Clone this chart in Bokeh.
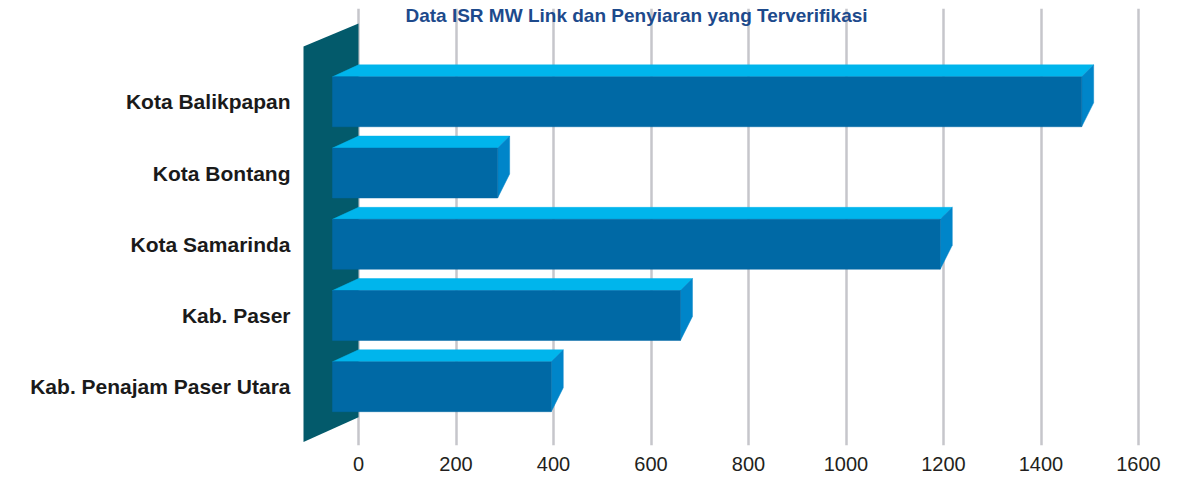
from bokeh.plotting import figure
from bokeh.models import Range1d, FixedTicker, Label
from bokeh.embed import file_html
from bokeh.resources import INLINE

# ---------------- data ----------------
categories = ["Kota Balikpapan", "Kota Bontang", "Kota Samarinda",
              "Kab. Paser", "Kab. Penajam Paser Utara"]
values = [1508, 310, 1218, 685, 420]
x_ticks = [0, 200, 400, 600, 800, 1000, 1200, 1400, 1600]
title_text = "Data ISR MW Link dan Penyiaran yang Terverifikasi"

# ---------------- layout ----------------
W, H = 1170, 473
B_LEFT, B_RIGHT, B_TOP, B_BOTTOM = 300, 0, 8, 27
frame_w = W - B_LEFT - B_RIGHT
frame_h = H - B_TOP - B_BOTTOM
PX = 0.4875            # pixels per value unit
ROW = 71.4             # pixels per category row
zero_px = 58           # zero gridline from frame left (px)
first_row_px = 93.5    # first bar centre from frame top (px)

x_start = -zero_px / PX
x_end = x_start + frame_w / PX
y_top = -first_row_px / ROW
y_bottom = y_top + frame_h / ROW

def ux(px):
    return px / PX

def uy(px):
    return px / ROW

FONT = "Liberation Sans"
C_TOP = "#00B5EC"
C_FRONT = "#0069A5"
C_SIDE = "#0085C9"
C_WALL = "#035A6B"
C_GRID = "#C6C6CB"

p = figure(width=W, height=H, output_backend="svg", toolbar_location=None,
           x_range=Range1d(x_start, x_end), y_range=Range1d(y_bottom, y_top),
           min_border_left=B_LEFT, min_border_right=B_RIGHT,
           min_border_top=B_TOP, min_border_bottom=B_BOTTOM)
p.outline_line_color = None
p.background_fill_color = "white"
p.border_fill_color = "white"

# grid
p.xgrid.ticker = FixedTicker(ticks=x_ticks)
p.xgrid.grid_line_color = C_GRID
p.xgrid.grid_line_width = 2.5
p.ygrid.visible = False

# x axis
p.xaxis.ticker = FixedTicker(ticks=x_ticks)
p.xaxis.axis_line_color = None
p.xaxis.major_tick_line_color = None
p.xaxis.minor_tick_line_color = None
p.xaxis.major_label_text_font = FONT
p.xaxis.major_label_text_font_size = "20px"
p.xaxis.major_label_text_color = "#231F20"
p.xaxis.major_label_standoff = 5

# y axis
idx = list(range(len(categories)))
p.yaxis.ticker = FixedTicker(ticks=idx)
p.yaxis.major_label_overrides = {i: c for i, c in zip(idx, categories)}
p.yaxis.axis_line_color = None
p.yaxis.major_tick_line_color = None
p.yaxis.minor_tick_line_color = None
p.yaxis.major_label_text_font = FONT
p.yaxis.major_label_text_font_style = "bold"
p.yaxis.major_label_text_font_size = "21px"
p.yaxis.major_label_text_color = "#1A1A1A"
p.yaxis.major_label_standoff = 4

# side wall (3D effect)
wall_x = [0, ux(-55), ux(-55), 0]
wall_y = [uy(-78.5), uy(-55.5), 4 + uy(55.5), 4 + uy(30.5)]
p.patch(wall_x, wall_y, fill_color=C_WALL, line_color=None)

# bars
half_h = uy(25)
top_xs, top_ys, side_xs, side_ys, front_xs, front_ys = [], [], [], [], [], []
for i, v in zip(idx, values):
    fl, fr = ux(-26), v - ux(12)
    bl, br = 0, v
    ft, fb = i - half_h, i + half_h
    bt, bb = ft - uy(12), fb - uy(24)
    top_xs.append([fl, fr, br, bl]); top_ys.append([ft, ft, bt, bt])
    side_xs.append([fr, br, br, fr]); side_ys.append([ft, bt, bb, fb])
    front_xs.append([fl, fr, fr, fl]); front_ys.append([ft, ft, fb, fb])

p.patches(top_xs, top_ys, fill_color=C_TOP, line_color=C_TOP, line_width=0.5)
p.patches(side_xs, side_ys, fill_color=C_SIDE, line_color=C_SIDE, line_width=0.5)
p.patches(front_xs, front_ys, fill_color=C_FRONT, line_color=C_FRONT, line_width=0.5)

# title
p.add_layout(Label(x=ux(278), y=y_top + uy(7), text=title_text,
                   text_align="center", text_baseline="middle",
                   text_font=FONT, text_font_style="bold",
                   text_font_size="19px", text_color="#1D4A8C"))

open("out.html", "w").write(file_html(p, INLINE))
